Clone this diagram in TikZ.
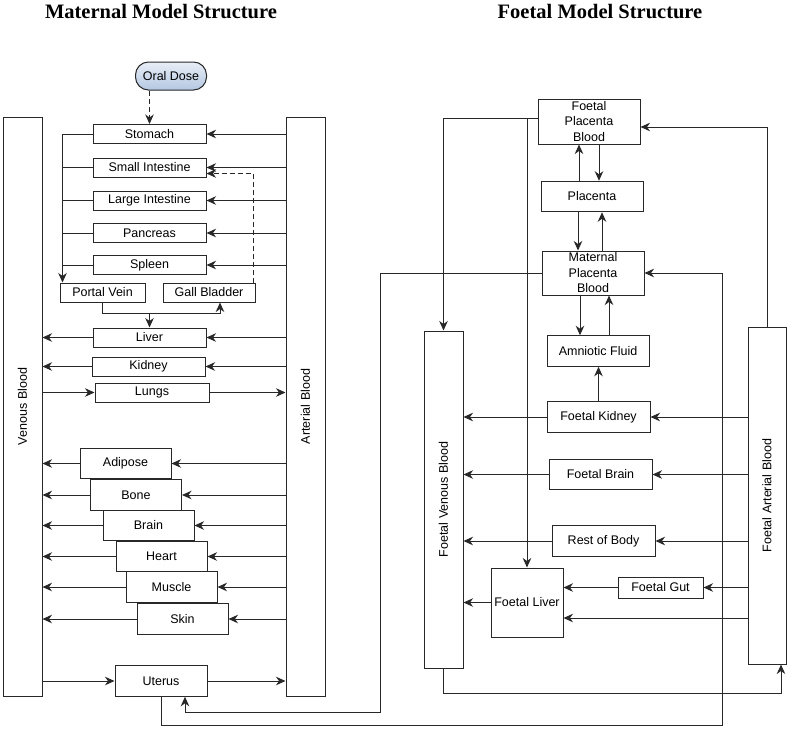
\documentclass[tikz,border=0pt]{standalone}
\usepackage{fontspec}
\setmainfont{Liberation Sans}
\newfontfamily\titlefont{Liberation Serif}
\usetikzlibrary{arrows.meta, positioning, calc}
\definecolor{linecolor}{RGB}{40,40,40}
\definecolor{dosetop}{RGB}{232,238,247}
\definecolor{dosebottom}{RGB}{180,199,226}

\begin{document}
\begin{tikzpicture}[
    x=1pt, y=-1pt,
    box/.style={draw=linecolor, line width=1pt, fill=white, inner sep=1pt, align=center, font=\fontsize{12.5}{15.5}\selectfont},
    organ/.style={box, minimum width=113pt, minimum height=19pt},
    tissue/.style={box, minimum width=91pt, minimum height=30.5pt},
    fbox/.style={box, minimum width=102pt, minimum height=30.5pt},
    bar/.style={box, minimum width=39pt},
    barlabel/.style={rotate=90, font=\fontsize{12.5}{15}\selectfont},
    arrow/.style={-{Stealth[length=9.5pt, width=8.5pt, inset=3pt]}, line width=1pt, draw=linecolor},
    link/.style={line width=1pt, draw=linecolor},
    title/.style={font=\titlefont\bfseries\fontsize{20.5}{24}\selectfont, anchor=base}
]
    \useasboundingbox (0,0) rectangle (789,728);
    \fill[white] (0,0) rectangle (789,728);

    \node[title] (mtitle) at (161,18) {Maternal Model Structure};
    \node[title] (ftitle) at (600,18) {Foetal Model Structure};

    % maternal side
    \node[bar, minimum height=579pt, label={[barlabel]center:Venous Blood}] (venous) at (22.5,406.5) {};
    \node[bar, minimum height=579pt, label={[barlabel]center:Arterial Blood}] (arterial) at (305.5,406.5) {};
    \node[box, rounded corners=13pt, minimum width=71pt, minimum height=28pt, top color=dosetop, bottom color=dosebottom] (oral) at (171,76) {Oral Dose};
    \node[organ] (stomach) at (149.5,134) {Stomach};
    \node[organ] (smallint) at (149.5,167.5) {Small Intestine};
    \node[organ] (largeint) at (149.5,200.5) {Large Intestine};
    \node[organ] (pancreas) at (149.5,233) {Pancreas};
    \node[organ] (spleen) at (149.5,265) {Spleen};
    \node[box, minimum width=85pt, minimum height=19pt] (portal) at (102.5,292.5) {Portal Vein};
    \node[box, minimum width=92pt, minimum height=19pt] (gall) at (209,292.5) {Gall Bladder};
    \node[organ] (liver) at (149.5,337.5) {Liver};
    \node[organ] (kidney) at (148.5,366.5) {Kidney};
    \node[organ, minimum width=114pt] (lungs) at (152,392.5) {Lungs};
    \node[tissue] (adipose) at (125.5,463.5) {Adipose};
    \node[tissue] (bone) at (136,495) {Bone};
    \node[tissue] (brain) at (148.5,525.5) {Brain};
    \node[tissue] (heart) at (161.5,556.5) {Heart};
    \node[tissue] (muscle) at (171.5,587) {Muscle};
    \node[tissue] (skin) at (182.5,619) {Skin};
    \node[tissue, minimum width=92pt] (uterus) at (161,681) {Uterus};

    \coordinate (gutline) at ([xshift=3pt]portal.north west);
    \coordinate (pvbend) at ([yshift=-11pt]portal.south);
    \coordinate (loopL) at (380,712);
    \coordinate (loopR) at (722,725);

    \draw[arrow, dashed, dash pattern=on 5pt off 3pt] (oral.south -| stomach.north) -- (stomach.north);
    \foreach \n in {stomach, smallint, largeint, pancreas, spleen}
        \draw[arrow] (\n -| arterial.west) -- (\n.east);
    \draw[arrow] (stomach.west) -| (gutline);
    \foreach \n in {smallint, largeint, pancreas, spleen}
        \draw[link] (\n.west) -- (\n.west -| gutline);
    \draw[arrow, dashed, dash pattern=on 5pt off 3pt] ([xshift=-2pt]gall.north east) |- ([yshift=-6pt]smallint.east);
    \draw[arrow] (portal.south) -- (pvbend) -| ([xshift=11pt]gall.south);
    \draw[arrow] (pvbend -| liver.north) -- (liver.north);
    \foreach \n in {liver, kidney, adipose, bone, brain, heart, muscle, skin} {
        \draw[arrow] (\n -| arterial.west) -- (\n.east);
        \draw[arrow] (\n.west) -- (\n -| venous.east);
    }
    \foreach \n in {lungs, uterus} {
        \draw[arrow] (\n -| venous.east) -- (\n.west);
        \draw[arrow] (\n.east) -- (\n -| arterial.west);
    }

    % foetal side
    \node[bar, minimum height=337pt, label={[barlabel]center:Foetal Venous Blood}] (fvenous) at (443.5,499.5) {};
    \node[bar, minimum width=38pt, minimum height=337pt, label={[barlabel]center:Foetal Arterial Blood}] (farterial) at (767,495.5) {};
    \node[fbox, minimum height=45pt] (fpb) at (589,121.5) {Foetal\\Placenta\\Blood};
    \node[fbox] (placenta) at (592,196.5) {Placenta};
    \node[fbox, minimum height=44pt] (mpb) at (593,273) {Maternal\\Placenta\\Blood};
    \node[fbox] (amniotic) at (598,351) {Amniotic Fluid};
    \node[fbox, minimum width=103pt] (fkidney) at (598.5,417) {Foetal Kidney};
    \node[fbox, minimum width=103pt] (fbrain) at (600.5,474.5) {Foetal Brain};
    \node[fbox, minimum width=103pt] (rest) at (603.5,541) {Rest of Body};
    \node[box, minimum width=85pt, minimum height=21pt] (fgut) at (660.5,587.5) {Foetal Gut};
    \node[box, minimum width=72pt, minimum height=69pt] (fliver) at (527,602.5) {Foetal Liver};

    \draw[arrow] ([xshift=-13pt]placenta.north) -- ([xshift=-13pt]placenta.north |- fpb.south);
    \draw[arrow] ([xshift=7pt]placenta.north |- fpb.south) -- ([xshift=7pt]placenta.north);
    \draw[arrow] ([xshift=-14pt]placenta.south) -- ([xshift=-14pt]placenta.south |- mpb.north);
    \draw[arrow] ([xshift=10pt]placenta.south |- mpb.north) -- ([xshift=10pt]placenta.south);
    \draw[arrow] ([xshift=-13pt]mpb.south) -- ([xshift=-13pt]mpb.south |- amniotic.north);
    \draw[arrow] ([xshift=16pt]mpb.south |- amniotic.north) -- ([xshift=16pt]mpb.south);
    \draw[arrow] (fkidney.north) -- (fkidney.north |- amniotic.south);
    \foreach \n in {fkidney, fbrain, rest} {
        \draw[arrow] (\n -| farterial.west) -- (\n.east);
        \draw[arrow] (\n.west) -- (\n -| fvenous.east);
    }
    \draw[arrow] (fgut -| farterial.west) -- (fgut.east);
    \draw[arrow] (fgut.west) -- (fgut -| fliver.east);
    \draw[arrow] ([yshift=-15.5pt]fliver.center -| farterial.west) -- ([yshift=-15.5pt]fliver.east);
    \draw[arrow] (fliver.west) -- (fliver -| fvenous.east);
    \draw[arrow] (farterial.north) |- ([yshift=-5.5pt]fpb.east);
    \draw[arrow] ([yshift=3.5pt]fpb.west) -| (fvenous.north);
    \draw[arrow] ([yshift=3.5pt]fpb.west -| fliver.north) -- (fliver.north);
    \draw[arrow] (fvenous.south) -- ++(0,-25pt) -| ([xshift=14pt]farterial.south);

    % maternal placenta blood and uterus
    \draw[arrow] (uterus.south) |- (loopR) |- (mpb.east);
    \draw[arrow] (mpb.west) -| (loopL) -| ([xshift=24pt]uterus.south);
\end{tikzpicture}
\end{document}
